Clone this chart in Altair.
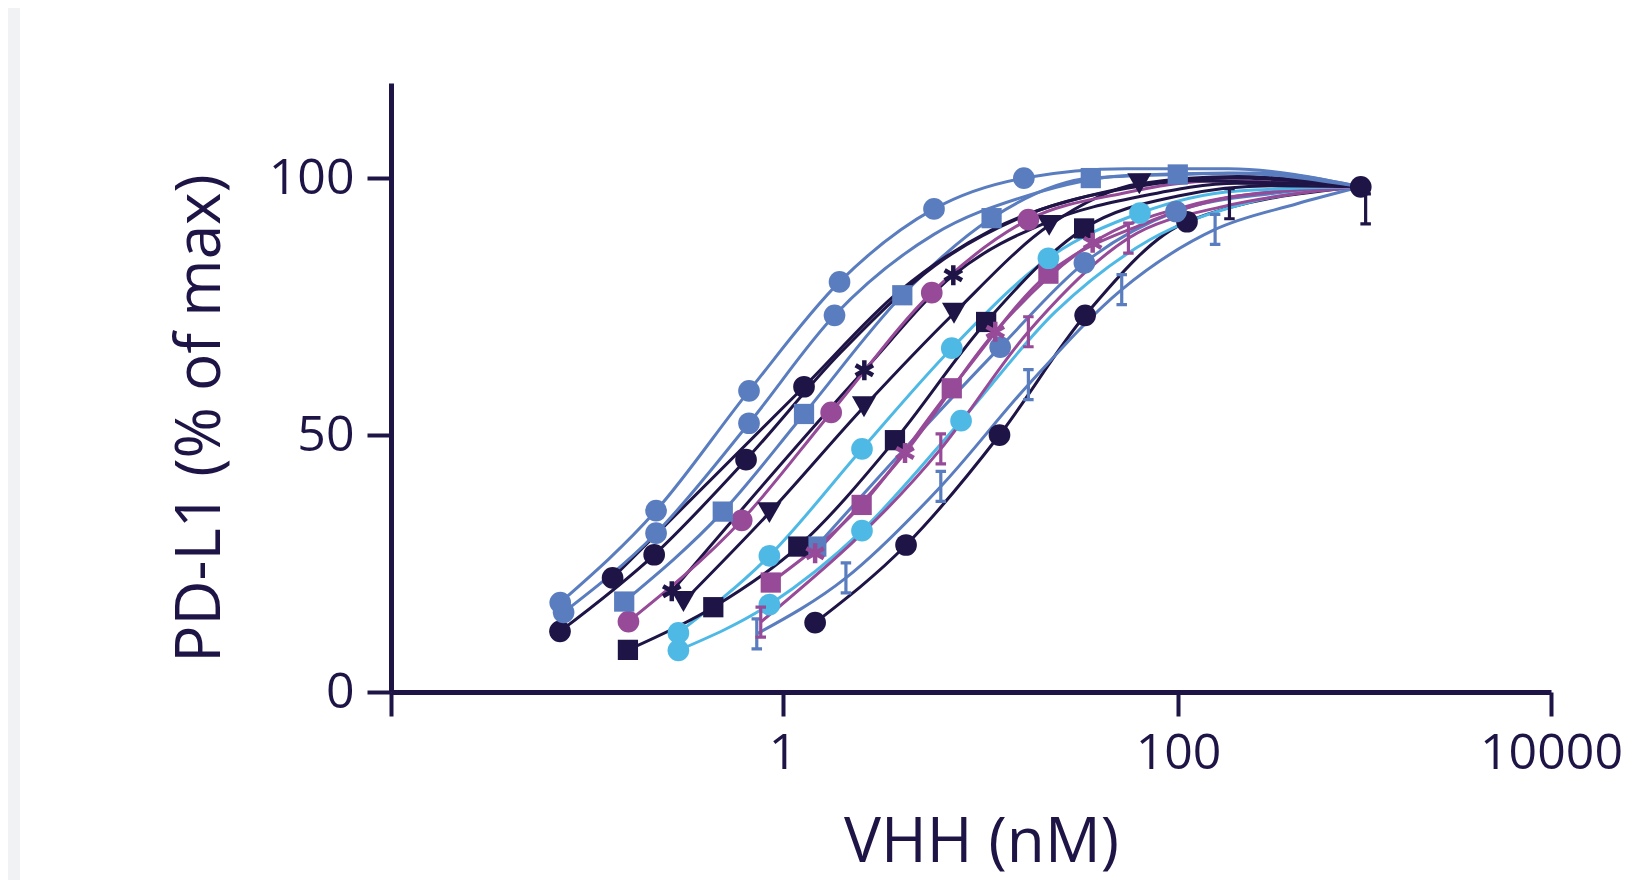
import altair as alt
import pandas as pd

NAVY = "#1e1446"
BLUE = "#5a7dbf"
MAGENTA = "#964a97"
CYAN = "#4fb9e5"
FRAME = "#f1f2f4"

# x: VHH concentration (nM), y: PD-L1 (% of max) -- markers
blue_circ_a_x = [0.075, 0.229, 0.676, 1.94, 5.83, 16.6]
blue_circ_a_y = [17.4, 35.3, 58.6, 79.8, 94.0, 100.0]
blue_circ_b_x = [0.078, 0.229, 0.676, 1.83]
blue_circ_b_y = [15.5, 30.9, 52.3, 73.3]
navy_circ_a_x = [0.0748, 0.224, 0.653]
navy_circ_a_y = [11.8, 26.7, 45.2]
navy_circ_b_x = [0.138, 1.283]
navy_circ_b_y = [22.2, 59.4]
blue_sq_x = [0.158, 0.498, 1.283, 4.03, 11.4, 36.2, 99.7]
blue_sq_y = [17.6, 35.1, 54.1, 77.2, 92.2, 100.0, 100.7]
navy_sq_x = [0.165, 0.446, 1.20, 3.70, 10.7, 33.5]
navy_sq_y = [8.2, 16.5, 28.3, 49.0, 72.0, 90.2]
navy_tri_x = [0.315, 0.857, 2.58, 7.36, 22.3, 63.7]
navy_tri_y = [17.6, 34.9, 55.5, 73.7, 90.8, 98.9]
navy_star_x = [0.275, 2.59, 7.30]
navy_star_y = [19.6, 62.6, 81.1]
mag_circ_x = [0.166, 0.621, 1.76, 5.68, 17.5]
mag_circ_y = [13.7, 33.4, 54.4, 77.7, 91.9]
mag_sq_x = [0.871, 2.51, 7.17, 22.1]
mag_sq_y = [21.3, 36.4, 59.1, 81.4]
mag_star_x = [1.46, 4.16, 11.9, 37.0]
mag_star_y = [27.0, 46.5, 70.1, 87.4]
mag_bar_x = [0.775, 6.31, 17.5, 56.1]
mag_bar_y = [13.6, 47.3, 70.1, 88.3]
blue_bar_x = [0.740, 2.09, 6.31, 17.5, 51.9, 154.0]
blue_bar_y = [11.3, 22.2, 40.0, 59.8, 78.3, 90.0]
cyan_circ_a_x = [0.297, 0.857, 2.52, 7.17, 22.1, 64.2]
cyan_circ_a_y = [11.5, 26.5, 47.3, 66.9, 84.4, 93.2]
cyan_circ_b_x = [0.297, 0.857, 2.52, 7.99]
cyan_circ_b_y = [8.1, 17.0, 31.4, 52.8]
blue_circ_c_x = [12.6, 33.6, 97.7]
blue_circ_c_y = [67.1, 83.5, 93.5]
blue_sq_b_x = [1.48]
blue_sq_b_y = [28.3]
navy_circ_c_x = [1.46, 4.21, 12.5, 33.9, 111.0, 840.0]
navy_circ_c_y = [13.5, 28.6, 50.0, 73.3, 91.5, 98.3]
navy_bar_x = [182.0, 889.0]
navy_bar_y = [95.0, 94.0]

# extra points (line only, no marker)
blue_circ_a_cx, blue_circ_a_cy = [55, 180], [101.8, 101.8]
blue_circ_b_cx, blue_circ_b_cy = [5.8, 17, 55, 180], [89.0, 96.5, 100.5, 101.0]
navy_circ_a_cx, navy_circ_a_cy = [1.96, 5.9, 17.6, 55, 180], [66.0, 83.0, 93.0, 98.0, 100.0]
navy_circ_b_cx, navy_circ_b_cy = [3.9, 11.5, 35, 110], [78.0, 90.0, 96.5, 99.5]
blue_sq_cx, blue_sq_cy = [250], [101.0]
navy_sq_cx, navy_sq_cy = [100, 300], [96.5, 98.5]
navy_tri_cx, navy_tri_cy = [200], [100.3]
navy_star_cx, navy_star_cy = [22, 66, 200], [91.5, 96.5, 99.0]
mag_circ_cx, mag_circ_cy = [52, 160], [97.0, 99.5]
mag_sq_cx, mag_sq_cy = [66, 200], [91.0, 96.5]
mag_star_cx, mag_star_cy = [110, 330], [94.5, 97.5]
mag_bar_cx, mag_bar_cy = [170, 400], [94.5, 97.0]
blue_bar_cx, blue_bar_cy = [400], [95.0]
cyan_circ_a_cx, cyan_circ_a_cy = [200], [97.5]
cyan_circ_b_cx, cyan_circ_b_cy = [24, 72, 215], [74.0, 88.0, 95.0]
blue_circ_c_cx, blue_circ_c_cy = [1.48, 4.3, 300], [28.3, 48.0, 97.0]

# common end of the fitted curves (highest concentration)
END_X = 840.0
END_Y = 98.3

X_MIN, X_MAX = 0.01045, 7700.0
X_TICKS = [X_MIN, 1, 100, X_MAX]
Y_MAX = 118.5
Y_TICKS = [0, 50, 100]

STAR = "M0,-1V1M-0.87,-0.5L0.87,0.5M-0.87,0.5L0.87,-0.5"
IBAR = "M-0.35,-1H0.35M0,-1V1M-0.35,1H0.35"

series = [
    ("navy_circ_c", NAVY, "circle", navy_circ_c_x, navy_circ_c_y, [], []),
    ("blue_bar", BLUE, IBAR, blue_bar_x, blue_bar_y, blue_bar_cx, blue_bar_cy),
    ("blue_circ_c", BLUE, "circle", blue_circ_c_x, blue_circ_c_y, blue_circ_c_cx, blue_circ_c_cy),
    ("cyan_circ_b", CYAN, "circle", cyan_circ_b_x, cyan_circ_b_y, cyan_circ_b_cx, cyan_circ_b_cy),
    ("mag_bar", MAGENTA, IBAR, mag_bar_x, mag_bar_y, mag_bar_cx, mag_bar_cy),
    ("mag_star", MAGENTA, STAR, mag_star_x, mag_star_y, mag_star_cx, mag_star_cy),
    ("mag_sq", MAGENTA, "square", mag_sq_x, mag_sq_y, mag_sq_cx, mag_sq_cy),
    ("cyan_circ_a", CYAN, "circle", cyan_circ_a_x, cyan_circ_a_y, cyan_circ_a_cx, cyan_circ_a_cy),
    ("blue_sq_b", BLUE, "square", blue_sq_b_x, blue_sq_b_y, [], []),
    ("navy_sq", NAVY, "square", navy_sq_x, navy_sq_y, navy_sq_cx, navy_sq_cy),
    ("navy_tri", NAVY, "triangle-down", navy_tri_x, navy_tri_y, navy_tri_cx, navy_tri_cy),
    ("navy_star", NAVY, STAR, navy_star_x, navy_star_y, navy_star_cx, navy_star_cy),
    ("mag_circ", MAGENTA, "circle", mag_circ_x, mag_circ_y, mag_circ_cx, mag_circ_cy),
    ("blue_sq", BLUE, "square", blue_sq_x, blue_sq_y, blue_sq_cx, blue_sq_cy),
    ("navy_circ_b", NAVY, "circle", navy_circ_b_x, navy_circ_b_y, navy_circ_b_cx, navy_circ_b_cy),
    ("navy_circ_a", NAVY, "circle", navy_circ_a_x, navy_circ_a_y, navy_circ_a_cx, navy_circ_a_cy),
    ("blue_circ_b", BLUE, "circle", blue_circ_b_x, blue_circ_b_y, blue_circ_b_cx, blue_circ_b_cy),
    ("blue_circ_a", BLUE, "circle", blue_circ_a_x, blue_circ_a_y, blue_circ_a_cx, blue_circ_a_cy),
]

SIZES = {"circle": 470, "square": 410, "triangle-down": 580, STAR: 400, IBAR: 900}
STROKES = {STAR: 4.5, IBAR: 3.2}
LINE_ONLY = {"blue_sq_b"}

pts, lines = [], []
for name, col, shp, xs, ys, cxs, cys in series:
    for xv, yv in zip(xs, ys):
        pts.append(dict(series=name, x=xv, y=yv, color=col, shape=shp, size=SIZES[shp],
                        sw=STROKES.get(shp, 0), filled=shp in ("circle", "square", "triangle-down")))
    if name in LINE_ONLY:
        continue
    lp = sorted(set(list(zip(xs, ys)) + list(zip(cxs, cys)) + [(END_X, END_Y)]))
    for i, (xv, yv) in enumerate(lp):
        lines.append(dict(series=name, x=xv, y=yv, color=col, order=i))
for xv, yv in zip(navy_bar_x, navy_bar_y):
    pts.append(dict(series="navy_bar", x=xv, y=yv, color=NAVY, shape=IBAR, size=SIZES[IBAR],
                    sw=STROKES[IBAR], filled=False))

pts_df = pd.DataFrame(pts)
lines_df = pd.DataFrame(lines)

x_enc = alt.X("x:Q", title="VHH (nM)",
              scale=alt.Scale(type="log", domain=[X_MIN, X_MAX], nice=False),
              axis=alt.Axis(values=X_TICKS, tickSize=24, labelPadding=12, labelFlush=False, zindex=1,
                            labelExpr="datum.value < 0.5 ? '' : (datum.value > 5000 ? '10000' : format(datum.value, 'd'))",
                            titleX=590, titleY=169, titleBaseline="alphabetic", titleFontSize=62))
y_enc = alt.Y("y:Q", title="PD-L1 (% of max)",
              scale=alt.Scale(domain=[0, Y_MAX], nice=False, zero=False),
              axis=alt.Axis(values=Y_TICKS, tickSize=24, labelPadding=13, zindex=1,
                            titleX=-191, titleY=335, titleBaseline="middle", titleAngle=-90,
                            titleFontSize=62))

# white panel on the light-grey page frame
panel = alt.Chart(pd.DataFrame({"p": [0]})).mark_rect(color="white").encode(
    x=alt.value(-371), x2=alt.value(1160 + 71), y=alt.value(-75), y2=alt.value(609 + 188))

line_layer = alt.Chart(lines_df).mark_line(interpolate="monotone", strokeWidth=3).encode(
    x=x_enc, y=y_enc, detail="series:N", order="order:Q",
    color=alt.Color("color:N", scale=None))

filled_layer = alt.Chart(pts_df[pts_df.filled]).mark_point(filled=True, opacity=1, strokeWidth=0).encode(
    x="x:Q", y="y:Q",
    color=alt.Color("color:N", scale=None),
    shape=alt.Shape("shape:N", scale=None),
    size=alt.Size("size:Q", scale=None))

stroked_layer = alt.Chart(pts_df[~pts_df.filled]).mark_point(filled=False, opacity=1).encode(
    x="x:Q", y="y:Q",
    stroke=alt.Color("color:N", scale=None),
    shape=alt.Shape("shape:N", scale=None),
    size=alt.Size("size:Q", scale=None),
    strokeWidth=alt.StrokeWidth("sw:Q", scale=None))

chart = alt.layer(panel, line_layer, filled_layer, stroked_layer).properties(
    width=1160, height=609,
    autosize=alt.AutoSizeParams(type="none"),
    padding={"left": 383, "top": 75, "right": 71, "bottom": 188},
    background=FRAME,
).configure_view(stroke=None).configure_axis(
    grid=False,
    domainColor=NAVY, domainWidth=5,
    tickColor=NAVY, tickWidth=4,
    labelFont="Open Sans", labelFontSize=50, labelColor=NAVY,
    titleFont="Open Sans", titleFontWeight="normal", titleColor=NAVY,
)

chart.save("out.html", embed_options={"renderer": "svg", "actions": False})
